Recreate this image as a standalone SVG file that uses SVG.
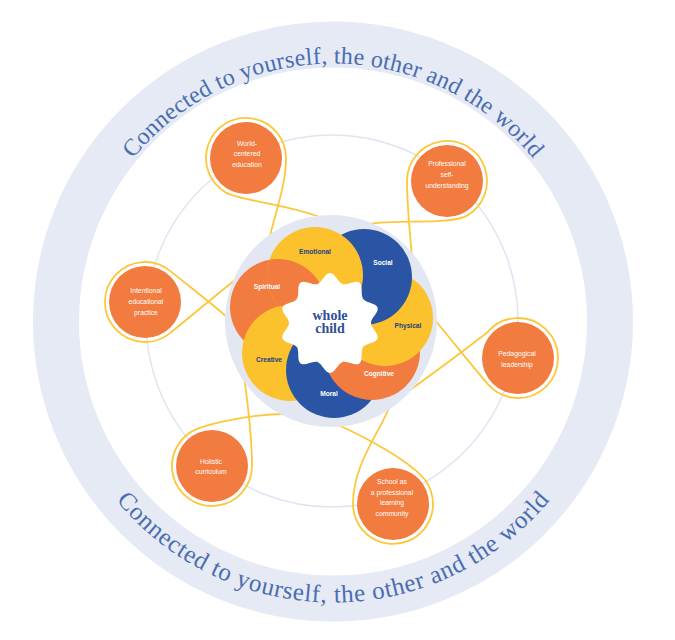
<svg xmlns="http://www.w3.org/2000/svg" width="675" height="640" viewBox="0 0 675 640">
<style>
.nodefill{fill:#f27b3f}
.loop{fill:none;stroke:#fcc73a;stroke-width:1.8}
.ntext{font-family:"Liberation Sans",Arial,sans-serif;font-size:6.8px;fill:#ffffff;text-anchor:middle}
.ptext{font-family:"Liberation Sans",Arial,sans-serif;font-size:6.6px;font-weight:bold;text-anchor:middle}
.dark{fill:#223f86}
.light{fill:#ffffff}
.outer{font-family:"Liberation Serif","DejaVu Serif",serif;fill:#4a6db2}
.orange{fill:#f27b3f}
.yellow{fill:#fbc22d}
.blue{fill:#2a55a4}
.wc{font-family:"Liberation Serif","DejaVu Serif",serif;font-size:14px;font-weight:bold;fill:#2f4f9a;text-anchor:middle}
</style>
<defs>
<path id="arcTop" d="M75,321.5 A258,258 0 0 1 591,321.5"/>
<path id="arcBot" d="M52,321.5 A281,281 0 0 0 614,321.5"/>
<clipPath id="clipEmo"><circle cx="315" cy="275" r="48"/></clipPath>
<path id="wedge" d="M0,0 L-12.67,-38.99 C-7.91,-40.54 -5,-50 0,-50 C5,-50 7.91,-40.54 12.67,-38.99 Z"/>
</defs>
<rect width="675" height="640" fill="#ffffff"/>

<g id="background">
<circle cx="333" cy="321.5" r="277" fill="none" stroke="#e5eaf4" stroke-width="46"/>
<circle cx="332" cy="321" r="186" fill="none" stroke="#dfe5f0" stroke-width="1.5"/>
<text class="outer" font-size="24"><textPath href="#arcTop" startOffset="50%" text-anchor="middle" textLength="458" lengthAdjust="spacing">Connected to yourself, the other and the world</textPath></text>
<text class="outer" font-size="25"><textPath href="#arcBot" startOffset="50%" text-anchor="middle" textLength="495" lengthAdjust="spacing">Connected to yourself, the other and the world</textPath></text>
</g>

<g id="connectors">
<path class="loop" d="M269,240 C276,210 286,185 286,158 A40,40 0 1 0 226,192.6 C241,201 292,205 322,218"/>
<path class="loop" d="M412,258 C410,232 407,206 407,181 A40,40 0 1 1 467,215.6 C450,225 400,219 368,224"/>
<path class="loop" d="M235,280 C215,296 190,317 170.7,332.6 A40,40 0 1 1 170.7,271.4 C190,287 210,302 228,318"/>
<path class="loop" d="M434,319 C450,338 472,366 487.4,383.7 A40,40 0 1 0 487.4,332.3 C470,346 435,372 410,390"/>
<path class="loop" d="M244,376 C248,405 252,435 252,466 A40,40 0 1 1 198.3,428.4 C215,422 255,414 285,414"/>
<path class="loop" d="M389,408 C378,435 353,465 353,504 A40,40 0 1 0 421.3,475.7 C407,461 372,440 336,424"/>
</g>

<g id="node-world">
<circle class="nodefill" cx="246" cy="158" r="36"/>
<text class="ntext" x="247" y="145.5">World-</text>
<text class="ntext" x="247" y="156">centered</text>
<text class="ntext" x="247" y="166.5">education</text>
</g>
<g id="node-professional">
<circle class="nodefill" cx="447" cy="181" r="36"/>
<text class="ntext" x="447" y="166">Professional</text>
<text class="ntext" x="447" y="176.5">self-</text>
<text class="ntext" x="447" y="187.5">understanding</text>
</g>
<g id="node-intentional">
<circle class="nodefill" cx="145" cy="302" r="36"/>
<text class="ntext" x="146" y="293">Intentional</text>
<text class="ntext" x="146" y="303.5">educational</text>
<text class="ntext" x="146" y="314.5">practice</text>
</g>
<g id="node-pedagogical">
<circle class="nodefill" cx="518" cy="358" r="36"/>
<text class="ntext" x="517" y="356">Pedagogical</text>
<text class="ntext" x="517" y="366.5">leadership</text>
</g>
<g id="node-holistic">
<circle class="nodefill" cx="212" cy="466" r="36"/>
<text class="ntext" x="211" y="463.5">Holistic</text>
<text class="ntext" x="211" y="474">curriculum</text>
</g>
<g id="node-school">
<circle class="nodefill" cx="393" cy="504" r="36"/>
<text class="ntext" x="392" y="484">School as</text>
<text class="ntext" x="392" y="494.5">a professional</text>
<text class="ntext" x="392" y="505">learning</text>
<text class="ntext" x="392" y="515.5">community</text>
</g>

<g id="whole-child">
<circle cx="331" cy="321" r="106" fill="#e3e7f1"/>
<circle class="orange" cx="278" cy="307" r="48"/>
<circle class="yellow" cx="290" cy="353" r="48"/>
<circle class="blue" cx="334" cy="370" r="48"/>
<circle class="orange" cx="372" cy="352" r="48"/>
<circle class="yellow" cx="385" cy="318" r="48"/>
<circle class="blue" cx="364" cy="277" r="48"/>
<circle class="yellow" cx="315" cy="275" r="48"/>
<g clip-path="url(#clipEmo)">
<circle class="orange" cx="278" cy="307" r="48"/>
<circle class="yellow" cx="290" cy="353" r="48"/>
</g>
<g transform="translate(330,323)" fill="#ffffff">
<use href="#wedge"/>
<use href="#wedge" transform="rotate(36)"/>
<use href="#wedge" transform="rotate(72)"/>
<use href="#wedge" transform="rotate(108)"/>
<use href="#wedge" transform="rotate(144)"/>
<use href="#wedge" transform="rotate(180)"/>
<use href="#wedge" transform="rotate(216)"/>
<use href="#wedge" transform="rotate(252)"/>
<use href="#wedge" transform="rotate(288)"/>
<use href="#wedge" transform="rotate(324)"/>
<circle r="40"/>
</g>
<text class="wc" x="330" y="320">whole</text>
<text class="wc" x="330" y="333">child</text>
<text class="ptext dark" x="315" y="254">Emotional</text>
<text class="ptext light" x="383" y="265">Social</text>
<text class="ptext dark" x="408" y="327.5">Physical</text>
<text class="ptext light" x="379" y="375.5">Cognitive</text>
<text class="ptext light" x="329" y="395.5">Moral</text>
<text class="ptext dark" x="269" y="361.5">Creative</text>
<text class="ptext light" x="267" y="288.5">Spiritual</text>
</g>
</svg>
